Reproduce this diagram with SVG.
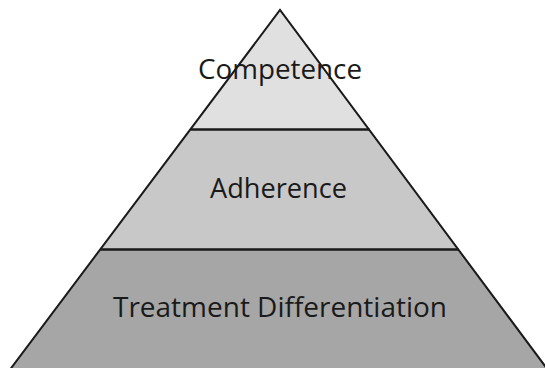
<svg xmlns="http://www.w3.org/2000/svg" width="545" height="368" viewBox="0 0 545 368">
<style>
.lbl{font-family:"Open Sans","Noto Sans","Liberation Sans",sans-serif;fill:#1a1a1a;text-anchor:middle}
.edge{fill:none;stroke:#1a1a1a;stroke-width:2}
.sep{stroke:#1a1a1a;stroke-width:2.5}
</style>
<rect width="545" height="368" fill="#ffffff"/>
<g id="treatment-differentiation">
<polygon points="100.6,249.5 458.5,249.5 548,370 9.7,370" fill="#a6a6a6"/>
<text class="lbl" x="280" y="317" font-size="27" textLength="334" lengthAdjust="spacingAndGlyphs">Treatment Differentiation</text>
</g>
<g id="adherence">
<polygon points="191,129.5 369.5,129.5 458.5,249.5 100.6,249.5" fill="#c8c8c8"/>
<text class="lbl" x="278.5" y="198" font-size="27" textLength="137" lengthAdjust="spacingAndGlyphs">Adherence</text>
</g>
<g id="competence">
<polygon points="280,10 369.5,129.5 191,129.5" fill="#e0e0e0"/>
<text class="lbl" x="280" y="79" font-size="27" textLength="164" lengthAdjust="spacingAndGlyphs">Competence</text>
</g>
<g id="connectors">
<polyline class="edge" points="9.7,370 280,10 548,370"/>
<line class="sep" x1="191" y1="129.5" x2="369.5" y2="129.5"/>
<line class="sep" x1="100.6" y1="249.5" x2="458.5" y2="249.5"/>
</g>
</svg>
